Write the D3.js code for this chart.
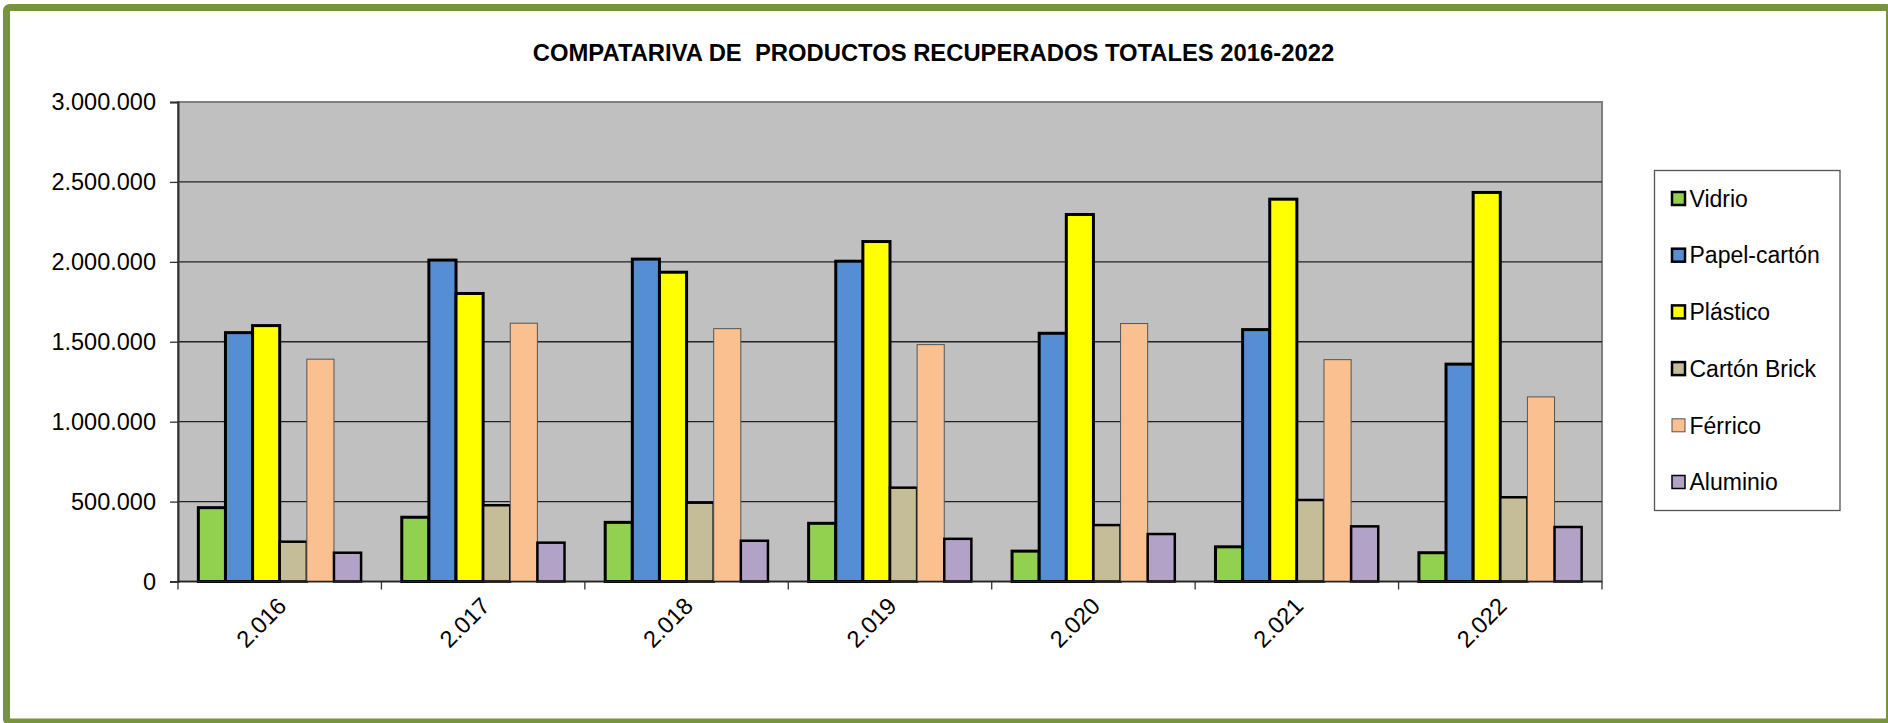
<!DOCTYPE html>
<html>
<head>
<meta charset="utf-8">
<script src="https://cdn.jsdelivr.net/npm/d3@7"></script>
<style>
  body { margin: 0; background: #fff; }
  svg { display: block; font-family: "Liberation Sans", Arial, sans-serif; }
</style>
</head>
<body>
<div id="chart"></div>
<script>

// Set dimensions and margins for the plot
const width = 1888;
const height = 723;
const margin = {left: 178, right: 286, top: 102, bottom: 141.5};

// Data
const years = ["2.016", "2.017", "2.018", "2.019", "2.020", "2.021", "2.022"];
const series = ["Vidrio", "Papel-cartón", "Plástico", "Cartón Brick", "Férrico", "Aluminio"];

const vidrio      = [462000, 402000, 370000, 364000, 190000, 217000, 180000];
const papelCarton = [1557000, 2011000, 2017000, 2004000, 1553000, 1576000, 1360000];
const plastico    = [1601000, 1802000, 1935000, 2127000, 2296000, 2392000, 2434000];
const cartonBrick = [249000, 477000, 493000, 587000, 353000, 510000, 527000];
const ferrico     = [1391000, 1616000, 1582000, 1482000, 1614000, 1388000, 1155000];
const aluminio    = [180000, 243000, 255000, 267000, 297000, 345000, 341000];

const yTicks = [0, 500000, 1000000, 1500000, 2000000, 2500000, 3000000];

const values = [vidrio, papelCarton, plastico, cartonBrick, ferrico, aluminio];

// Colours and borders of each series
const colors  = ["#92D050", "#558ED5", "#FFFF00", "#C4BD97", "#FAC090", "#B3A2C7"];
const strokes = ["#000", "#000", "#000", "#000", "#555", "#000"];
const strokeW = [3, 3, 3, 2.5, 1, 2.5];
const legendW = [2.5, 2.5, 2.5, 2.5, 1, 1.5];

// Table of bars built from the arrays above
const table = [];
years.forEach((y, i) => {
  series.forEach((s, j) => {
    table.push({year: y, series: s, idx: j, value: values[j][i]});
  });
});

const svg = d3.select("#chart")
  .append("svg")
  .attr("width", width)
  .attr("height", height)
  .attr("viewBox", [0, 0, width, height]);

// Outer green frame
svg.append("rect")
  .attr("x", 6.5)
  .attr("y", 7.5)
  .attr("width", 1883)
  .attr("height", 714.5)
  .attr("rx", 3)
  .attr("fill", "#fff")
  .attr("stroke", "#77933C")
  .attr("stroke-width", 7);

// Title
svg.append("text")
  .attr("x", 933.5)
  .attr("y", 61)
  .attr("text-anchor", "middle")
  .attr("font-weight", "bold")
  .attr("font-size", "23.8px")
  .attr("fill", "#000")
  .attr("xml:space", "preserve")
  .style("white-space", "pre")
  .text("COMPATARIVA DE  PRODUCTOS RECUPERADOS TOTALES 2016-2022");

/*

  Scales

*/

const x0 = d3.scaleBand()
  .domain(years)
  .range([margin.left, width - margin.right]);

const x1 = d3.scaleBand()
  .domain(series)
  .range([0, x0.bandwidth()])
  .paddingInner(0)
  .paddingOuter(0.75);

const yScale = d3.scaleLinear()
  .domain([0, 3000000])
  .range([height - margin.bottom, margin.top]);

const fmt = d3.formatLocale({decimal: ",", thousands: ".", grouping: [3], currency: ["", ""]}).format(",d");

// Plot area background
svg.append("rect")
  .attr("x", margin.left)
  .attr("y", margin.top)
  .attr("width", width - margin.left - margin.right)
  .attr("height", height - margin.top - margin.bottom)
  .attr("fill", "#C0C0C0")
  .attr("stroke", "#808080")
  .attr("stroke-width", 2);

// Grid lines
svg.append("g")
  .selectAll("line")
  .data(yTicks.slice(1, -1))
  .enter()
  .append("line")
    .attr("x1", margin.left)
    .attr("x2", width - margin.right)
    .attr("y1", d => yScale(d))
    .attr("y2", d => yScale(d))
    .attr("stroke", "#222")
    .attr("stroke-width", 1.3);

// Bars
svg.append("g")
  .selectAll(".bar")
  .data(table)
  .enter()
  .append("rect")
    .attr("class", "bar")
    .attr("x", d => x0(d.year) + x1(d.series))
    .attr("y", d => yScale(d.value))
    .attr("width", x1.bandwidth())
    .attr("height", d => yScale(0) - yScale(d.value))
    .attr("fill", d => colors[d.idx])
    .attr("stroke", d => strokes[d.idx])
    .attr("stroke-width", d => strokeW[d.idx]);

// Y axis
const yAxis = svg.append("g")
  .attr("transform", `translate(${margin.left}, 0)`)
  .call(d3.axisLeft(yScale).tickValues(yTicks).tickFormat(fmt).tickSize(8).tickPadding(14));
yAxis.select(".domain").attr("stroke", "#333").attr("stroke-width", 2);
yAxis.selectAll(".tick line").attr("stroke", "#333").attr("stroke-width", 1.3);
yAxis.selectAll("text")
  .attr("font-size", "23.5px")
  .attr("fill", "#000")
  .attr("font-family", "'Liberation Sans', Arial, sans-serif");

// X axis with ticks between the groups
const xAxis = svg.append("g")
  .attr("transform", `translate(0, ${height - margin.bottom})`);
xAxis.append("line")
  .attr("x1", margin.left)
  .attr("x2", width - margin.right)
  .attr("stroke", "#222")
  .attr("stroke-width", 1.5);
xAxis.selectAll(".xtick")
  .data(years.concat(["end"]))
  .enter()
  .append("line")
    .attr("class", "xtick")
    .attr("x1", (d, i) => i < years.length ? x0(d) : width - margin.right)
    .attr("x2", (d, i) => i < years.length ? x0(d) : width - margin.right)
    .attr("y1", 0)
    .attr("y2", 8)
    .attr("stroke", "#333")
    .attr("stroke-width", 1.3);
xAxis.selectAll(".xlabel")
  .data(years)
  .enter()
  .append("text")
    .attr("class", "xlabel")
    .attr("text-anchor", "end")
    .attr("transform", d => `translate(${x0(d) + x0.bandwidth() / 2 + 8}, 26) rotate(-45)`)
    .attr("font-size", "23.5px")
    .attr("fill", "#000")
    .text(d => d);

/*

  Legend

*/

const legend = svg.append("g");
legend.append("rect")
  .attr("x", 1654.5)
  .attr("y", 170.5)
  .attr("width", 185.5)
  .attr("height", 340)
  .attr("fill", "#fff")
  .attr("stroke", "#555")
  .attr("stroke-width", 1.3);

const items = legend.selectAll(".item")
  .data(series)
  .enter()
  .append("g")
    .attr("class", "item")
    .attr("transform", (d, i) => `translate(1672, ${198.5 + i * 56.7})`);

items.append("rect")
  .attr("x", 0)
  .attr("y", -6.5)
  .attr("width", 13)
  .attr("height", 13)
  .attr("fill", (d, i) => colors[i])
  .attr("stroke", (d, i) => strokes[i])
  .attr("stroke-width", (d, i) => legendW[i]);

items.append("text")
  .attr("x", 17.5)
  .attr("y", 0)
  .attr("dy", "0.36em")
  .attr("font-size", "23px")
  .attr("fill", "#000")
  .text(d => d);

</script>
</body>
</html>
